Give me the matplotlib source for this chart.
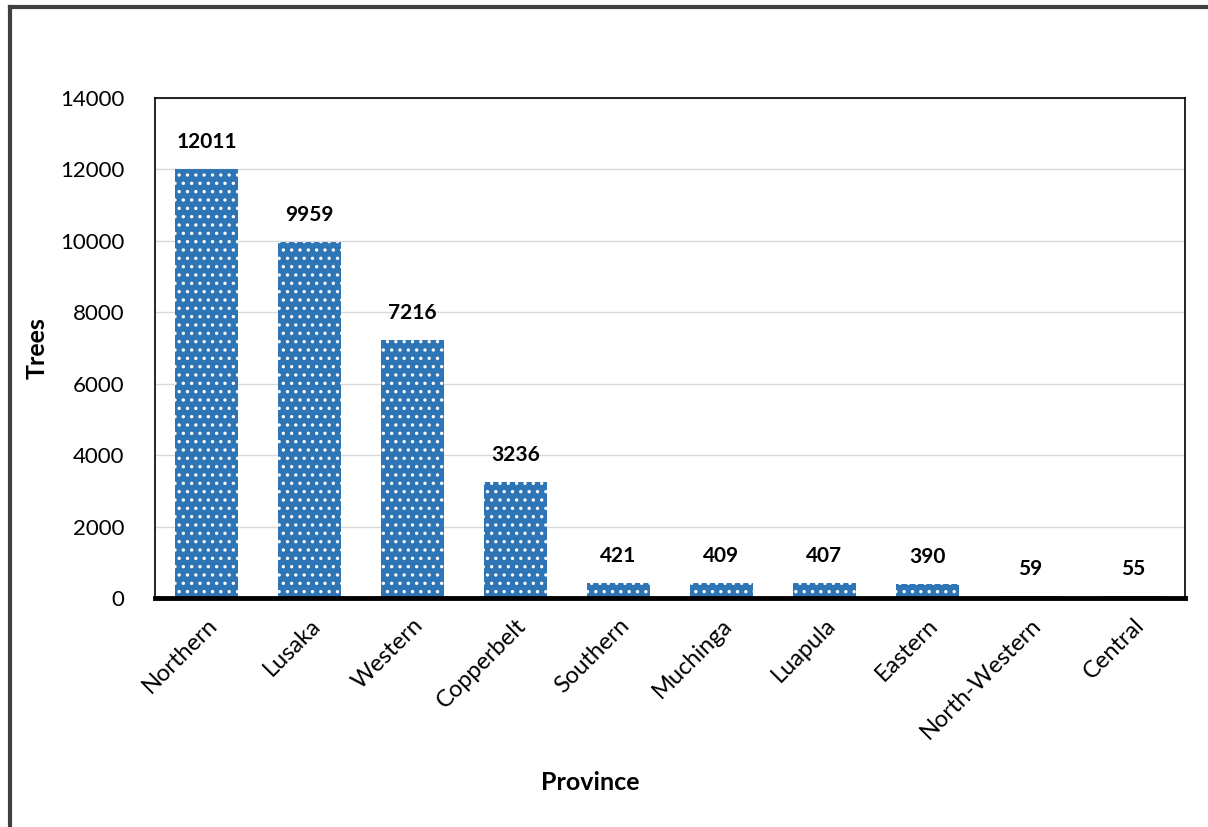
import matplotlib.pyplot as plt
from matplotlib.lines import Line2D

provinces = ['Northern', 'Lusaka', 'Western', 'Copperbelt', 'Southern',
             'Muchinga', 'Luapula', 'Eastern', 'North-Western', 'Central']
trees = [12011, 9959, 7216, 3236, 421, 409, 407, 390, 59, 55]
yticks = [0, 2000, 4000, 6000, 8000, 10000, 12000, 14000]

plt.rcParams['font.family'] = ['Lato', 'DejaVu Sans']
plt.rcParams['hatch.linewidth'] = 1.2

fig = plt.figure(figsize=(12.08, 8.27), dpi=100)
ax = fig.add_axes([155 / 1208, 1 - 598 / 827, 1030 / 1208, 500 / 827])

# blue bars with a white dot pattern
bars = ax.bar(provinces, trees, width=0.62, color='#2E75B6',
              edgecolor='white', linewidth=0, hatch='..', zorder=2)

for b, v in zip(bars, trees):
    ax.text(b.get_x() + b.get_width() / 2, v + 480, str(v),
            ha='center', va='bottom', fontsize=15, fontweight='bold')

ax.set_ylim(0, 14000)
ax.set_xlim(-0.5, 9.5)
ax.set_yticks(yticks)
ax.grid(axis='y', color='#D9D9D9', linewidth=1, zorder=0)
ax.tick_params(axis='y', length=0, labelsize=16, pad=22)
ax.tick_params(axis='x', length=0, labelsize=17, pad=12)
plt.setp(ax.get_xticklabels(), rotation=45, ha='right', rotation_mode='anchor')

for s in ['left', 'top', 'right']:
    ax.spines[s].set_linewidth(1.2)
ax.spines['bottom'].set_linewidth(3.5)

ax.set_ylabel('Trees', fontsize=18, fontweight='bold', va='center')
ax.yaxis.set_label_coords((37 - 155) / 1030, 0.5)
fig.text(590 / 1208, 1 - 783 / 827, 'Province', ha='center', va='center',
         fontsize=18, fontweight='bold')

# outer frame, only partly visible (left and top)
fig.add_artist(Line2D([10 / 1208, 10 / 1208], [0, 1 - 7 / 827],
                      transform=fig.transFigure, color='#404040', linewidth=3))
fig.add_artist(Line2D([10 / 1208, 1], [1 - 7 / 827, 1 - 7 / 827],
                      transform=fig.transFigure, color='#404040', linewidth=3))

fig.savefig('out.png', dpi=100)
